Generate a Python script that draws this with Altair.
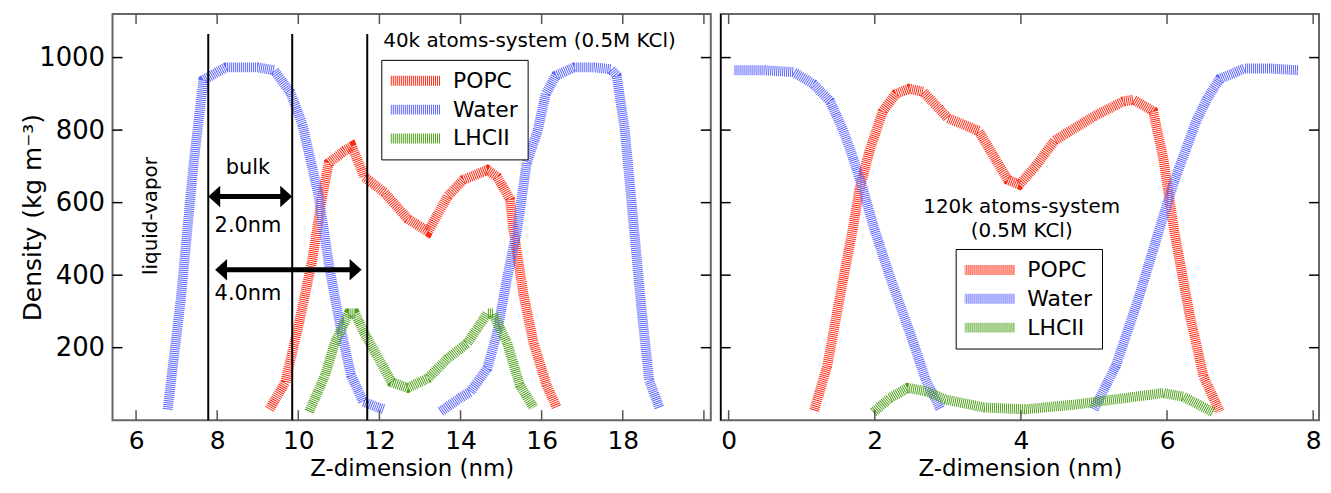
import altair as alt
import pandas as pd

FONT = "DejaVu Sans"
W, H = 601, 408
YMAX = 1120
TICK = "#555555"

SERIES = ["POPC", "Water", "LHCII"]
COLORS = ["#ff2a12", "#5a64ff", "#4ea01a"]

# ---------------- left panel: 40k atoms-system ----------------
L_popc_x = [9.29, 9.68, 10.0, 10.34, 10.59, 10.75, 11.15, 11.32, 11.63, 12.12, 12.7, 13.2,
            13.68, 14.07, 14.66, 14.9, 15.22, 15.3, 15.55, 15.8, 16.12, 16.37]
L_popc_y = [30, 105, 259, 439, 617, 709, 744, 755, 671, 628, 555, 520,
            617, 663, 690, 671, 609, 528, 348, 213, 97, 35]

L_water_a_x = [6.78, 7.1, 7.42, 7.66, 8.0, 8.22, 9.0, 9.4, 9.8, 10.1, 10.5, 10.78, 11.07,
               11.3, 11.6, 11.9, 12.1]
L_water_a_y = [30, 330, 709, 938, 960, 973, 973, 965, 905, 816, 620, 412, 240,
               124, 51, 38, 30]
L_water_b_x = [13.51, 14.0, 14.24, 14.66, 14.9, 15.15, 15.4, 15.63, 15.9, 16.1, 16.35, 16.8,
               17.3, 17.7, 17.85, 18.05, 18.25, 18.45, 18.65, 18.9]
L_water_b_y = [24, 62, 78, 143, 240, 393, 528, 709, 798, 900, 950, 973,
               973, 968, 950, 800, 560, 320, 110, 35]

L_lhc_x = [10.27, 10.66, 10.9, 11.24, 11.4, 11.63, 11.98, 12.3, 12.7, 13.2, 13.68, 14.17,
           14.66, 14.8, 15.15, 15.46, 15.8]
L_lhc_y = [24, 124, 213, 294, 294, 240, 170, 105, 89, 116, 170, 213,
           294, 294, 213, 97, 35]

L_vline_x = [7.78, 9.85, 11.7]
L_vline_top = 1065

L_arrow_x1 = [7.78, 7.95]
L_arrow_x2 = [9.85, 11.56]
L_arrow_y = [617, 415]

L_text = ["bulk", "2.0nm", "4.0nm"]
L_text_x = [8.76, 8.76, 8.76]
L_text_y = [695, 536, 348]

L_title = ["40k atoms-system (0.5M KCl)"]
L_title_x = [15.7]
L_title_y = [1046]

L_side = ["liquid-vapor"]
L_side_x = [6.37]
L_side_y = [563]

L_xlabels = [6, 8, 10, 12, 14, 16, 18]
L_xticks = [6, 8, 10, 12, 14, 16, 18, 20]
L_xdomain = [5.42, 20.17]

# ---------------- right panel: 120k atoms-system ----------------
R_popc_x = [1.17, 1.35, 1.55, 1.7, 1.79, 1.93, 2.11, 2.29, 2.47, 2.66, 3.0, 3.42, 3.82,
            3.98, 4.2, 4.46, 5.0, 5.4, 5.54, 5.81, 5.95, 6.1, 6.3, 6.5, 6.72]
R_popc_y = [27, 150, 370, 528, 636, 744, 852, 900, 914, 906, 833, 798, 663,
            650, 700, 771, 838, 879, 884, 852, 720, 520, 300, 120, 24]

R_water_a_x = [0.08, 0.5, 0.89, 1.16, 1.39, 1.57, 1.7, 1.84, 1.98, 2.2, 2.5, 2.7, 2.9]
R_water_a_y = [965, 965, 960, 927, 879, 798, 725, 636, 536, 400, 230, 110, 30]
R_water_b_x = [5.0, 5.3, 5.6, 5.9, 6.1, 6.4, 6.55, 6.72, 7.06, 7.4, 7.8]
R_water_b_y = [30, 150, 330, 530, 660, 825, 887, 941, 970, 970, 965]

R_lhc_x = [1.98, 2.2, 2.45, 2.7, 2.97, 3.5, 4.05, 4.73, 5.27, 5.95, 6.22, 6.63]
R_lhc_y = [22, 60, 89, 80, 57, 35, 30, 43, 57, 75, 65, 22]

R_title = ["120k atoms-system", "(0.5M KCl)"]
R_title_x = [4.01, 4.01]
R_title_y = [588, 523]

R_xlabels = [0, 2, 4, 6, 8]
R_xticks = [0, 2, 4, 6, 8]
R_xdomain = [-0.108, 8.08]

Y_ticks = [200, 400, 600, 800, 1000]


def series_frame(parts):
    rows = []
    for name, seg, xs, ys in parts:
        for x, y in zip(xs, ys):
            rows.append({"series": name, "seg": name + seg, "x": x, "y": y})
    return pd.DataFrame(rows)


def make_panel(df, xdom, xlabels, xticks, leg_x, leg_y, show_y, extra):
    xs = alt.Scale(domain=xdom, nice=False, zero=False)
    ys = alt.Scale(domain=[0, YMAX], nice=False, zero=False)
    xaxis = alt.Axis(title="Z-dimension (nm)", values=xlabels, ticks=False, tickSize=0,
                     domain=False, grid=False, labelFontSize=25, labelPadding=8,
                     titleFontSize=23, titlePadding=5, labelFont=FONT, titleFont=FONT,
                     titleFontWeight="normal", labelColor="black", titleColor="black",
                     format="d")
    if show_y:
        yaxis = alt.Axis(title="Density (kg m\u207b\u00b3)", values=Y_ticks, ticks=False,
                         tickSize=0, domain=False, grid=False, labelFontSize=26,
                         labelPadding=8, titleFontSize=25, labelFont=FONT, titleFont=FONT,
                         titleFontWeight="normal", labelColor="black", titleColor="black",
                         titleX=-80, titleY=H / 2, titleBaseline="middle", titleAngle=270,
                         format="d")
    else:
        yaxis = None

    def X(f="x"):
        return alt.X(f + ":Q", scale=xs, axis=xaxis)

    def Y(f="y"):
        return alt.Y(f + ":Q", scale=ys, axis=yaxis)

    legend = alt.Legend(orient="none", legendX=leg_x, legendY=leg_y, title=None,
                        symbolType="M-5.2,0H5.2", symbolSize=100, symbolStrokeWidth=10,
                        symbolDash=[1, 1], symbolOffset=14, labelFontSize=22,
                        labelFont=FONT, labelOffset=27, labelColor="black",
                        strokeColor="black", fillColor="white", padding=9, rowPadding=5,
                        clipHeight=24, symbolOpacity=1)

    lines = alt.Chart(df).mark_line(strokeWidth=10, strokeDash=[1, 1], strokeCap="butt").encode(
        x=X(), y=Y(),
        color=alt.Color("series:N", scale=alt.Scale(domain=SERIES, range=COLORS), legend=legend),
        detail="seg:N",
    )

    xt = pd.DataFrame({"x": xticks})
    yt = pd.DataFrame({"y": Y_ticks})
    bt = alt.Chart(xt).mark_rule(color=TICK, strokeWidth=1.5).encode(
        x=X(), y=alt.value(H), y2=alt.value(H - 10))
    tt = alt.Chart(xt).mark_rule(color=TICK, strokeWidth=1.5).encode(
        x=X(), y=alt.value(0), y2=alt.value(10))
    lt = alt.Chart(yt).mark_rule(color="black", strokeWidth=1.5).encode(
        y=Y(), x=alt.value(0), x2=alt.value(10))
    rt = alt.Chart(yt).mark_rule(color="black", strokeWidth=1.5).encode(
        y=Y(), x=alt.value(W), x2=alt.value(W - 10))

    layers = [lines, bt, tt, lt, rt] + extra(X, Y)
    return alt.layer(*layers).properties(width=W, height=H)


def left_extra(X, Y):
    vl = pd.DataFrame({"x": L_vline_x, "y": [0] * len(L_vline_x),
                       "y2": [L_vline_top] * len(L_vline_x)})
    vlines = alt.Chart(vl).mark_rule(color="black", strokeWidth=2).encode(
        x=X(), y=Y(), y2="y2:Q")
    ar = pd.DataFrame({"x": L_arrow_x1, "x2": L_arrow_x2, "y": L_arrow_y})
    shafts = alt.Chart(ar).mark_rule(color="black", strokeWidth=5, xOffset=8, x2Offset=-8).encode(
        x=X(), x2="x2:Q", y=Y())
    heads_df = pd.DataFrame({
        "x": L_arrow_x1 + L_arrow_x2,
        "y": L_arrow_y + L_arrow_y,
        "dir": ["L"] * len(L_arrow_x1) + ["R"] * len(L_arrow_x2),
    })
    heads = alt.Chart(heads_df).mark_point(filled=True, opacity=1, color="black", size=576,
                                           strokeWidth=0).encode(
        x=X(), y=Y(),
        shape=alt.Shape("dir:N", scale=alt.Scale(domain=["L", "R"],
                        range=["M0,0L1,-0.9L1,0.9Z", "M0,0L-1,-0.9L-1,0.9Z"]), legend=None))
    txt = alt.Chart(pd.DataFrame({"x": L_text_x, "y": L_text_y, "t": L_text})).mark_text(
        font=FONT, fontSize=21, color="black", align="center", baseline="middle").encode(
        x=X(), y=Y(), text="t:N")
    ttl = alt.Chart(pd.DataFrame({"x": L_title_x, "y": L_title_y, "t": L_title})).mark_text(
        font=FONT, fontSize=20, color="black", align="center", baseline="middle").encode(
        x=X(), y=Y(), text="t:N")
    side = alt.Chart(pd.DataFrame({"x": L_side_x, "y": L_side_y, "t": L_side})).mark_text(
        font=FONT, fontSize=20, color="black", align="center", baseline="middle",
        angle=270).encode(x=X(), y=Y(), text="t:N")
    return [vlines, shafts, heads, txt, ttl, side]


def right_extra(X, Y):
    ttl = alt.Chart(pd.DataFrame({"x": R_title_x, "y": R_title_y, "t": R_title})).mark_text(
        font=FONT, fontSize=20, color="black", align="center", baseline="middle").encode(
        x=X(), y=Y(), text="t:N")
    div = alt.Chart(pd.DataFrame({"y": [0]})).mark_rule(color="black", strokeWidth=1.5).encode(
        x=alt.value(0), y=alt.value(0), y2=alt.value(H))
    return [ttl, div]


left_df = series_frame([
    ("POPC", "a", L_popc_x, L_popc_y),
    ("Water", "a", L_water_a_x, L_water_a_y),
    ("Water", "b", L_water_b_x, L_water_b_y),
    ("LHCII", "a", L_lhc_x, L_lhc_y),
])
right_df = series_frame([
    ("POPC", "a", R_popc_x, R_popc_y),
    ("Water", "a", R_water_a_x, R_water_a_y),
    ("Water", "b", R_water_b_x, R_water_b_y),
    ("LHCII", "a", R_lhc_x, R_lhc_y),
])

left = make_panel(left_df, L_xdomain, L_xlabels, L_xticks, 270, 46, True, left_extra)
right = make_panel(right_df, R_xdomain, R_xlabels, R_xticks, 236, 236, False, right_extra)

chart = (
    alt.hconcat(left, right, spacing=0)
    .resolve_scale(x="independent", y="independent", color="independent", shape="independent")
    .properties(padding={"left": 12, "top": 3, "right": 0, "bottom": 4})
    .configure_view(stroke="#666666", strokeWidth=2)
)

chart.save("out.html", embed_options={"renderer": "svg", "actions": False})
